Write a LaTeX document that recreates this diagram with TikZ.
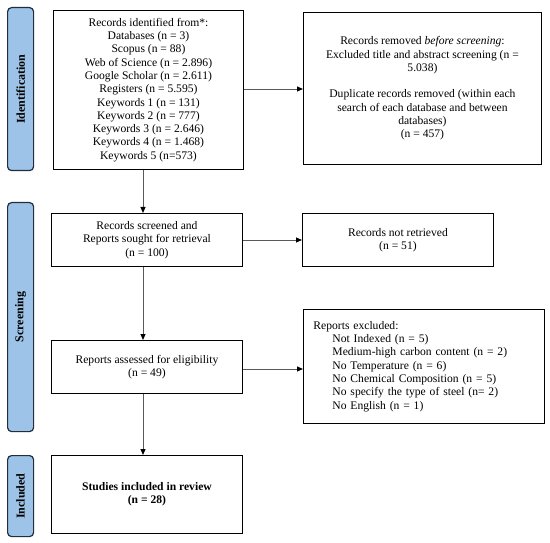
\documentclass[tikz,border=0pt]{standalone}
\usepackage{fontspec}
\setmainfont{Liberation Serif}
\usetikzlibrary{arrows.meta,positioning}
\definecolor{barfill}{RGB}{157,196,232}
\definecolor{bardraw}{RGB}{35,45,60}
\definecolor{linegray}{RGB}{90,90,90}
\tikzset{
  box/.style={draw=black, line width=0.9pt, fill=white, anchor=north west, inner sep=0pt,
    align=center, font=\fontsize{11.6}{13.3}\selectfont},
  bar/.style={draw=bardraw, fill=barfill, line width=1.2pt, rounded corners=4pt, anchor=north west, inner sep=0pt},
  bartext/.style={rotate=90, font=\fontsize{12}{14}\selectfont\bfseries},
  conn/.style={draw=linegray, line width=0.9pt, -{Triangle[length=6pt,width=5pt,color=black]}},
}
\begin{document}
\begin{tikzpicture}[x=1pt,y=-1pt]
\useasboundingbox (0,0) rectangle (550,543);
% side bars
\node[bar, minimum width=26pt, minimum height=163pt] (idbar) at (7,7) {};
\node[bartext] (idtxt) at (idbar.center) {Identification};
\node[bar, minimum width=26pt, minimum height=229pt] (scbar) at (7,202) {};
\node[bartext] (sctxt) at (scbar.center) {Screening};
\node[bar, minimum width=26pt, minimum height=81pt] (inbar) at (7,455) {};
\node[bartext] (intxt) at (inbar.center) {Included};
% boxes
\node[box, minimum width=190pt, minimum height=159pt] (b1) at (53,10) {Records identified from*:\\Databases (n = 3)\\Scopus (n = 88)\\Web of Science (n = 2.896)\\Google Scholar (n = 2.611)\\Registers (n = 5.595)\\Keywords 1 (n = 131)\\Keywords 2 (n = 777)\\Keywords 3 (n = 2.646)\\Keywords 4 (n = 1.468)\\Keywords 5 (n=573)};
\node[box, minimum width=238pt, minimum height=152pt] (b2) at (303,12) {Records removed \textit{before screening}:\\Excluded title and abstract screening (n =\\5.038)\\[13.3pt]Duplicate records removed (within each\\search of each database and between\\databases)\\(n = 457)};
\node[box, minimum width=191pt, minimum height=53pt] (b3) at (51,213) {Records screened and\\Reports sought for retrieval\\(n = 100)};
\node[box, minimum width=191pt, minimum height=53pt] (b4) at (302,213) {Records not retrieved\\(n = 51)};
\node[box, minimum width=191pt, minimum height=53pt] (b5) at (51,340) {Reports assessed for eligibility\\(n = 49)};
\node[box, minimum width=241pt, minimum height=114pt, align=left, text width=221pt, inner xsep=10pt] (b6) at (303,309) {Reports excluded:\\\hspace*{19pt}Not Indexed (n = 5)\\\hspace*{19pt}Medium-high carbon content (n = 2)\\\hspace*{19pt}No Temperature (n = 6)\\\hspace*{19pt}No Chemical Composition (n = 5)\\\hspace*{19pt}No specify the type of steel (n= 2)\\\hspace*{19pt}No English (n = 1)};
\node[box, minimum width=191pt, minimum height=78pt, font=\fontsize{11.6}{13.3}\selectfont\bfseries] (b7) at (51,455) {Studies included in review\\(n = 28)};
% connectors
\draw[conn] (b1.east |- 0,89) -- (b2.west |- 0,89);
\draw[conn] (b1.south -| 143,0) -- (b3.north -| 143,0);
\draw[conn] (b3.east |- 0,240) -- (b4.west |- 0,240);
\draw[conn] (b3.south -| 143,0) -- (b5.north -| 143,0);
\draw[conn] (b5.east |- 0,369) -- (b6.west |- 0,369);
\draw[conn] (b5.south -| 143,0) -- (b7.north -| 143,0);
\end{tikzpicture}
\end{document}
